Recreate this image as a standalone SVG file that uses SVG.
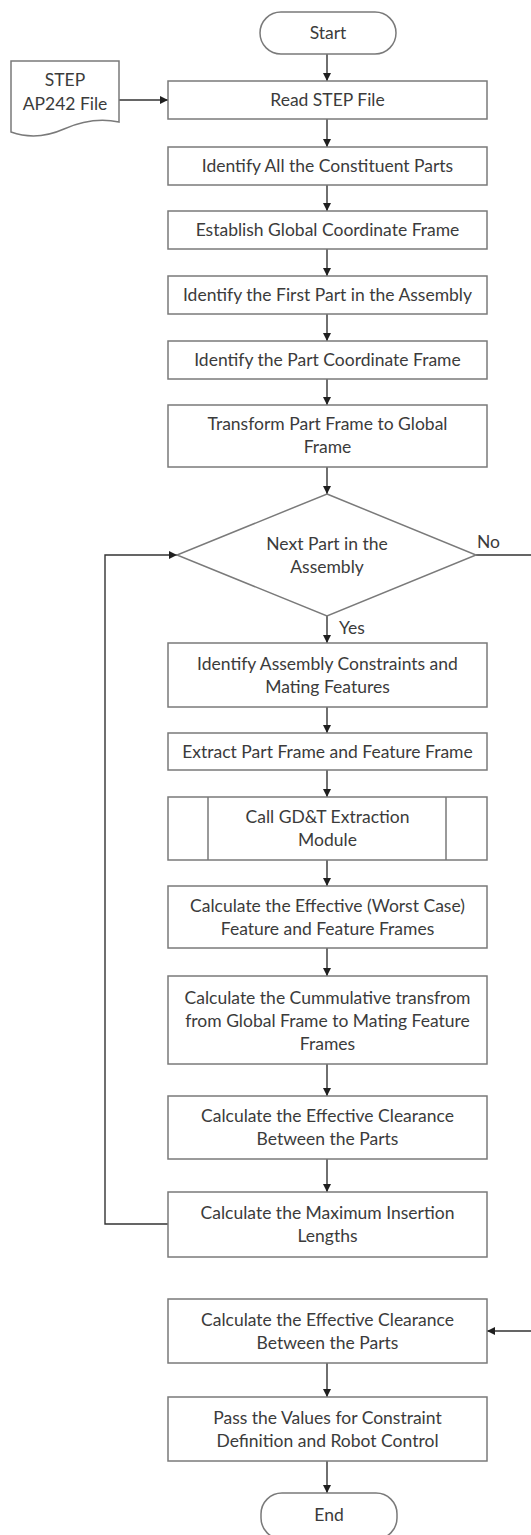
<svg xmlns="http://www.w3.org/2000/svg" width="531" height="1535" viewBox="0 0 531 1535">
  <style>
    .box { fill: #ffffff; stroke: #7a7a7a; stroke-width: 1.5; }
    .div { fill: none; stroke: #7a7a7a; stroke-width: 1.5; }
    .lbl { font-family: Lato, "Liberation Sans", sans-serif; font-size: 17.5px; fill: #3b3b3b; text-anchor: middle; }
    .tag { font-family: Lato, "Liberation Sans", sans-serif; font-size: 17.5px; fill: #3b3b3b; }
    .wire { fill: none; stroke: #333333; stroke-width: 1.4; }
    .arr { marker-end: url(#head); }
  </style>
  <defs>
    <marker id="head" viewBox="0 0 10 10" refX="10" refY="5" markerUnits="userSpaceOnUse" markerWidth="9" markerHeight="8" orient="auto">
      <path d="M0,0 L10,5 L0,10 Z" fill="#1f1f1f"/>
    </marker>
  </defs>
  <rect width="531" height="1535" fill="#ffffff"/>

  <g id="connectors">
    <path class="wire arr" d="M327,54 V81"/>
    <path class="wire arr" d="M119,100 H168"/>
    <path class="wire arr" d="M327,119 V147"/>
    <path class="wire arr" d="M327,185 V211"/>
    <path class="wire arr" d="M327,249 V276"/>
    <path class="wire arr" d="M327,314 V341"/>
    <path class="wire arr" d="M327,379 V405"/>
    <path class="wire arr" d="M327,467 V494"/>
    <path class="wire arr" d="M327,616 V643"/>
    <path class="wire arr" d="M327,707 V733"/>
    <path class="wire arr" d="M327,770 V797"/>
    <path class="wire arr" d="M327,860 V886"/>
    <path class="wire arr" d="M327,948 V976"/>
    <path class="wire arr" d="M327,1064 V1096"/>
    <path class="wire arr" d="M327,1159 V1192"/>
    <path class="wire arr" d="M168,1224 H105 V555 H177"/>
    <path class="wire arr" d="M476,555 H533 V1331 H487"/>
    <path class="wire arr" d="M327,1363 V1397"/>
    <path class="wire arr" d="M327,1461 V1493"/>
    <text class="tag" x="339" y="634">Yes</text>
    <text class="tag" x="477" y="548">No</text>
  </g>

  <g id="start">
    <rect class="box" x="260" y="12" width="136" height="42" rx="21" ry="21"/>
    <text class="lbl" x="328" y="39">Start</text>
  </g>

  <g id="step-file">
    <path class="box" d="M11,61 H119 V122 C100,118 82,121 64,129 C46,137 28,138 11,132 Z"/>
    <text class="lbl" x="65" y="86">STEP</text>
    <text class="lbl" x="65" y="110">AP242 File</text>
  </g>

  <g id="read-step">
    <rect class="box" x="168" y="81" width="319" height="38"/>
    <text class="lbl" x="327.5" y="106">Read STEP File</text>
  </g>

  <g id="identify-parts">
    <rect class="box" x="168" y="147" width="319" height="38"/>
    <text class="lbl" x="327.5" y="172">Identify All the Constituent Parts</text>
  </g>

  <g id="global-frame">
    <rect class="box" x="168" y="211" width="319" height="38"/>
    <text class="lbl" x="327.5" y="236">Establish Global Coordinate Frame</text>
  </g>

  <g id="first-part">
    <rect class="box" x="168" y="276" width="319" height="38"/>
    <text class="lbl" x="327.5" y="301">Identify the First Part in the Assembly</text>
  </g>

  <g id="part-frame">
    <rect class="box" x="168" y="341" width="319" height="38"/>
    <text class="lbl" x="327.5" y="366">Identify the Part Coordinate Frame</text>
  </g>

  <g id="transform-frame">
    <rect class="box" x="168" y="405" width="319" height="62"/>
    <text class="lbl" x="327.5" y="430">Transform Part Frame to Global</text>
    <text class="lbl" x="327.5" y="453">Frame</text>
  </g>

  <g id="next-part">
    <path class="box" d="M327,494 L476,555 L327,616 L177,555 Z"/>
    <text class="lbl" x="327" y="550">Next Part in the</text>
    <text class="lbl" x="327" y="573">Assembly</text>
  </g>

  <g id="constraints">
    <rect class="box" x="168" y="643" width="319" height="64"/>
    <text class="lbl" x="327.5" y="669.5">Identify Assembly Constraints and</text>
    <text class="lbl" x="327.5" y="692.5">Mating Features</text>
  </g>

  <g id="extract-frames">
    <rect class="box" x="168" y="733" width="319" height="37"/>
    <text class="lbl" x="327.5" y="757.5">Extract Part Frame and Feature Frame</text>
  </g>

  <g id="gdt-module">
    <rect class="box" x="168" y="797" width="319" height="63"/>
    <path class="div" d="M208,797 V860 M446,797 V860"/>
    <text class="lbl" x="327.5" y="823">Call GD&amp;T Extraction</text>
    <text class="lbl" x="327.5" y="846">Module</text>
  </g>

  <g id="worst-case">
    <rect class="box" x="168" y="886" width="319" height="62"/>
    <text class="lbl" x="327.5" y="911.5">Calculate the Effective (Worst Case)</text>
    <text class="lbl" x="327.5" y="934.5">Feature and Feature Frames</text>
  </g>

  <g id="cumulative-transform">
    <rect class="box" x="168" y="976" width="319" height="88"/>
    <text class="lbl" x="327.5" y="1004">Calculate the Cummulative transfrom</text>
    <text class="lbl" x="327.5" y="1027">from Global Frame to Mating Feature</text>
    <text class="lbl" x="327.5" y="1050">Frames</text>
  </g>

  <g id="clearance-loop">
    <rect class="box" x="168" y="1096" width="319" height="63"/>
    <text class="lbl" x="327.5" y="1122">Calculate the Effective Clearance</text>
    <text class="lbl" x="327.5" y="1145">Between the Parts</text>
  </g>

  <g id="insertion-lengths">
    <rect class="box" x="168" y="1192" width="319" height="65"/>
    <text class="lbl" x="327.5" y="1219">Calculate the Maximum Insertion</text>
    <text class="lbl" x="327.5" y="1242">Lengths</text>
  </g>

  <g id="clearance-final">
    <rect class="box" x="168" y="1299" width="319" height="64"/>
    <text class="lbl" x="327.5" y="1326">Calculate the Effective Clearance</text>
    <text class="lbl" x="327.5" y="1349">Between the Parts</text>
  </g>

  <g id="pass-values">
    <rect class="box" x="168" y="1397" width="319" height="64"/>
    <text class="lbl" x="327.5" y="1423.5">Pass the Values for Constraint</text>
    <text class="lbl" x="327.5" y="1446.5">Definition and Robot Control</text>
  </g>

  <g id="end">
    <rect class="box" x="261" y="1493" width="136" height="46" rx="21" ry="21"/>
    <text class="lbl" x="329" y="1521">End</text>
  </g>
</svg>
